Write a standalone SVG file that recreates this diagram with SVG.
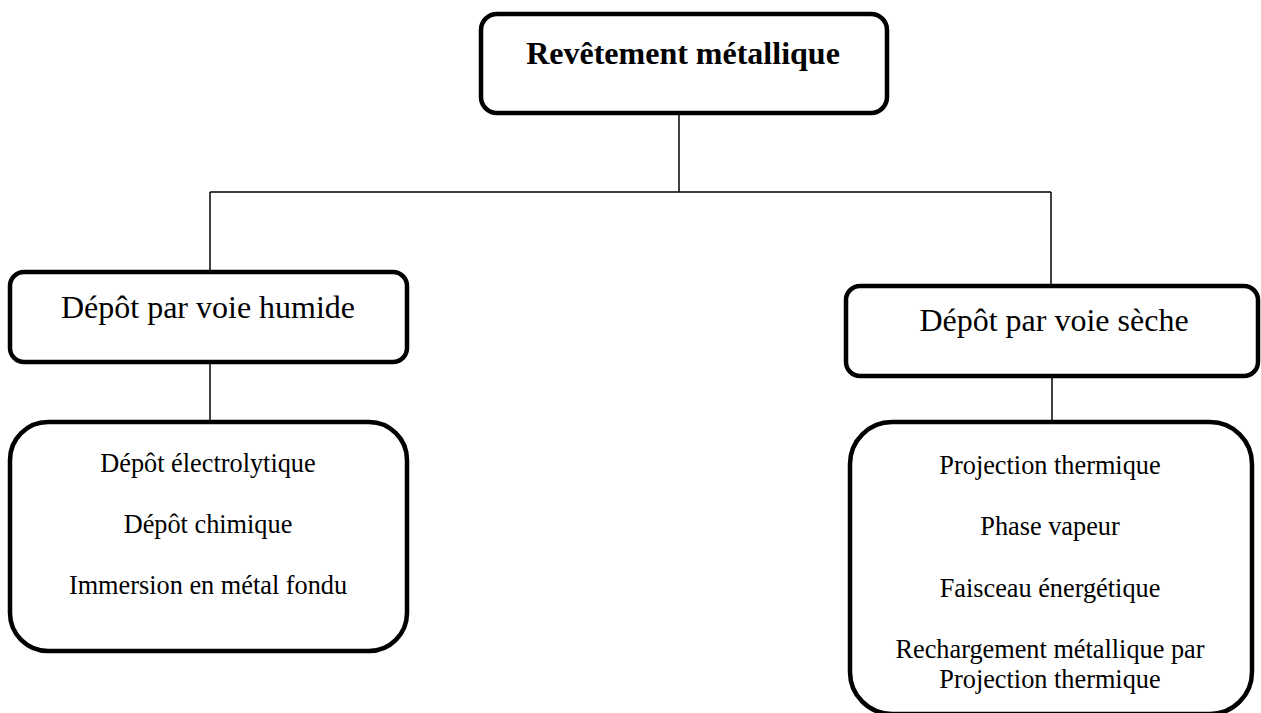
<svg xmlns="http://www.w3.org/2000/svg" width="1261" height="713" viewBox="0 0 1261 713">
<style>
.box{fill:#fff;stroke:#000;stroke-width:4.5}
.con{stroke:#000;stroke-width:1.5;fill:none}
.t{font-family:"Liberation Serif","Times New Roman",serif;fill:#000;text-anchor:middle}
.big{font-size:32px}
.sm{font-size:26.3px}
.title{font-size:32px;font-weight:bold}
</style>
<rect width="1261" height="713" fill="#fff"/>
<g id="connectors">
<line class="con" x1="679" y1="114" x2="679" y2="192"/>
<line class="con" x1="210" y1="192" x2="1051" y2="192"/>
<line class="con" x1="210" y1="192" x2="210" y2="272"/>
<line class="con" x1="1051" y1="192" x2="1051" y2="286"/>
<line class="con" x1="210" y1="362" x2="210" y2="422"/>
<line class="con" x1="1052" y1="376" x2="1052" y2="422"/>
</g>
<g id="n-root">
<rect class="box" x="481" y="14" width="406" height="99" rx="16"/>
<text class="t title" x="683" y="64">Revêtement métallique</text>
</g>
<g id="n-humide">
<rect class="box" x="10" y="272" width="397" height="90" rx="14"/>
<text class="t big" x="208" y="318">Dépôt par voie humide</text>
</g>
<g id="n-seche">
<rect class="box" x="846" y="286" width="412" height="90" rx="14"/>
<text class="t big" x="1054" y="331">Dépôt par voie sèche</text>
</g>
<g id="n-humide-list">
<rect class="box" x="10" y="422" width="397" height="229" rx="38"/>
<text class="t sm" x="208" y="472">Dépôt électrolytique</text>
<text class="t sm" x="208" y="533">Dépôt chimique</text>
<text class="t sm" x="208" y="594">Immersion en métal fondu</text>
</g>
<g id="n-seche-list">
<rect class="box" x="850" y="422" width="402" height="292" rx="42"/>
<text class="t sm" x="1050" y="474">Projection thermique</text>
<text class="t sm" x="1050" y="535">Phase vapeur</text>
<text class="t sm" x="1050" y="597">Faisceau énergétique</text>
<text class="t sm" x="1050" y="658">Rechargement métallique par</text>
<text class="t sm" x="1050" y="688">Projection thermique</text>
</g>
</svg>
